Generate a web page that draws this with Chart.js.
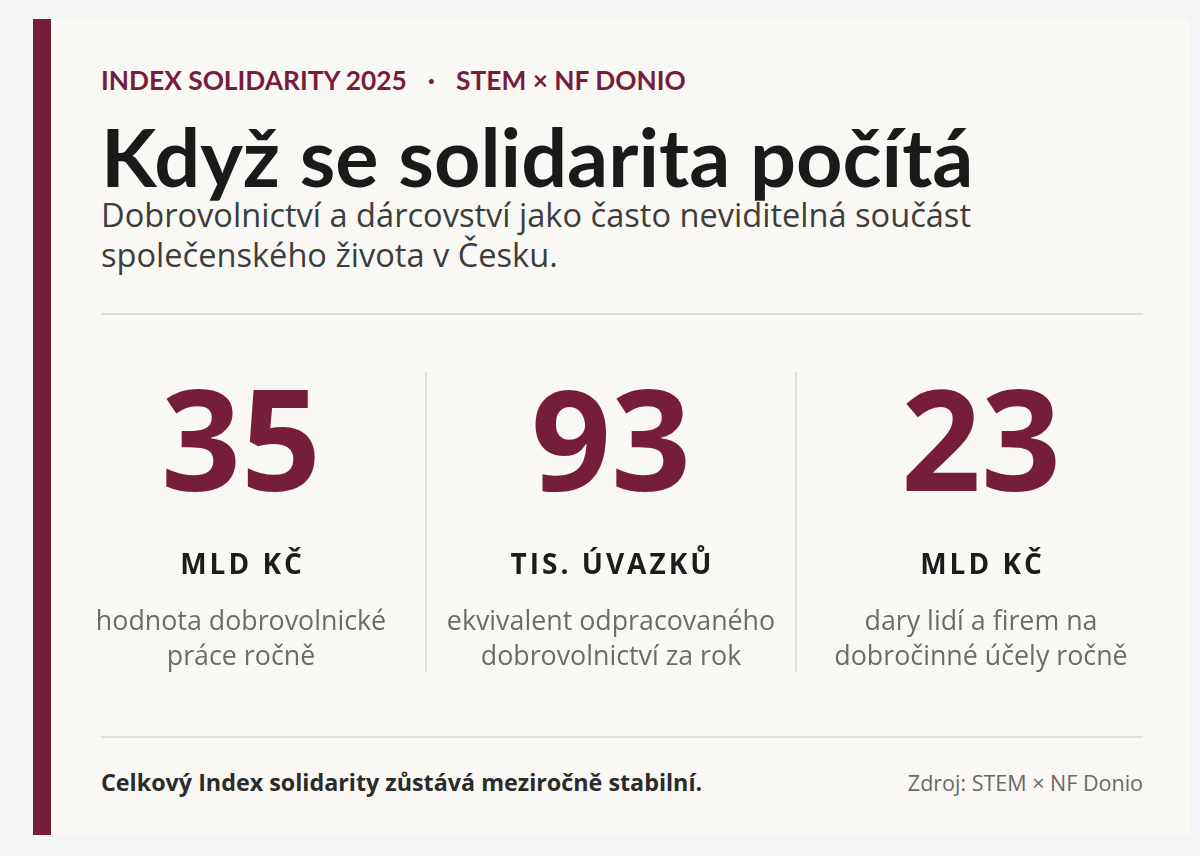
<!DOCTYPE html>
<html lang="cs">
<head>
<meta charset="utf-8">
<title>Index solidarity 2025</title>
<script src="https://cdn.jsdelivr.net/npm/chart.js@4.4.1/dist/chart.umd.min.js"></script>
<style>
  html, body { margin: 0; padding: 0; }
  body { width: 1200px; height: 856px; background: #f3f4f6; font-family: "Open Sans", "Noto Sans", sans-serif; position: relative; overflow: hidden; }
  .card { position: absolute; left: 33px; top: 19px; width: 1157px; height: 816px; background: #f9f8f4; }
  .bar { position: absolute; left: 0; top: 0; width: 18px; height: 100%; background: #771d3c; }
  .kicker { position: absolute; left: 68px; top: 46px; font-family: Lato, sans-serif; font-size: 26.3px; line-height: 1.2; font-weight: 700; color: #771d3c; white-space: nowrap; }
  .kicker .dot { margin: 0 21px; }
  h1 { position: absolute; left: 68px; top: 88px; margin: 0; font-family: Lato, sans-serif; font-size: 81px; line-height: 1.2; font-weight: 700; color: #1a1a1a; white-space: nowrap; }
  .sub { position: absolute; left: 68px; top: 176px; font-size: 32.6px; line-height: 40px; color: #3d3d3d; white-space: nowrap; }
  .rule { position: absolute; left: 68px; width: 1042px; height: 2px; background: #e2dfd4; }
  .kpis { position: absolute; left: 23px; top: 353px; width: 1110px; height: 300px; }
  .foot { position: absolute; left: 68px; top: 749px; font-size: 23.3px; line-height: 28px; font-weight: 700; color: #2b2b2b; white-space: nowrap; }
  .src { position: absolute; right: 47px; top: 751px; font-size: 21.5px; line-height: 25px; color: #6a6a66; white-space: nowrap; }
</style>
</head>
<body>
<div class="card">
  <div class="bar"></div>
  <div class="kicker">INDEX SOLIDARITY 2025<span class="dot">·</span>STEM × NF DONIO</div>
  <h1>Když se solidarita počítá</h1>
  <div class="sub">Dobrovolnictví a dárcovství jako často neviditelná součást<br>společenského života v Česku.</div>
  <div class="rule" style="top:294px"></div>
  <div class="kpis"><canvas id="kpiChart"></canvas></div>
  <div class="rule" style="top:717px"></div>
  <div class="foot">Celkový Index solidarity zůstává meziročně stabilní.</div>
  <div class="src">Zdroj: STEM × NF Donio</div>
</div>
<script>
// key figures
const kpiValues = [35, 93, 23];
const kpiUnits = ["MLD KČ", "TIS. ÚVAZKŮ", "MLD KČ"];
const kpiNotes = [
  ["hodnota dobrovolnické", "práce ročně"],
  ["ekvivalent odpracovaného", "dobrovolnictví za rok"],
  ["dary lidí a firem na", "dobročinné účely ročně"]
];

const maroon = "#771d3c";

// draws the big number, unit and note at each category position
const kpiText = {
  id: "kpiText",
  afterDraw(chart) {
    const ctx = chart.ctx;
    const xs = chart.scales.x;
    const top = chart.chartArea.top;
    ctx.save();
    ctx.textAlign = "center";
    ctx.textBaseline = "alphabetic";
    for (let i = 0; i < kpiValues.length; i++) {
      const x = xs.getPixelForValue(i);
      ctx.fillStyle = maroon;
      ctx.font = "700 140px 'Open Sans'";
      ctx.fillText(String(kpiValues[i]), x, top + 119);
      ctx.fillStyle = "#1c1c1c";
      ctx.font = "700 28px 'Open Sans'";
      ctx.letterSpacing = "3px";
      ctx.fillText(kpiUnits[i], x + 1.5, top + 202);  // spacing adds a trailing gap
      ctx.letterSpacing = "0px";
      ctx.fillStyle = "#6d6d68";
      ctx.font = "400 26.8px 'Open Sans'";
      for (let j = 0; j < kpiNotes[i].length; j++) {
        ctx.fillText(kpiNotes[i][j], x, top + 258 + j * 35);
      }
    }
    ctx.restore();
  }
};

new Chart(document.getElementById("kpiChart"), {
  type: "bar",
  data: {
    labels: kpiUnits,
    datasets: [{ data: kpiValues, backgroundColor: "rgba(0,0,0,0)" }]
  },
  options: {
    responsive: true,
    maintainAspectRatio: false,
    animation: false,
    events: [],
    layout: { padding: 0 },
    plugins: { legend: { display: false }, tooltip: { enabled: false } },
    scales: {
      x: {
        offset: true,
        border: { display: false },
        ticks: { display: false },
        grid: {
          offset: true,
          drawTicks: false,
          lineWidth: 2,
          // only the two separators between the columns
          color: c => (c.index === 1 || c.index === 2) ? "#e2dfd4" : "rgba(0,0,0,0)"
        }
      },
      y: { display: false, min: 0, max: 100 }
    }
  },
  plugins: [kpiText]
});
</script>
</body>
</html>
